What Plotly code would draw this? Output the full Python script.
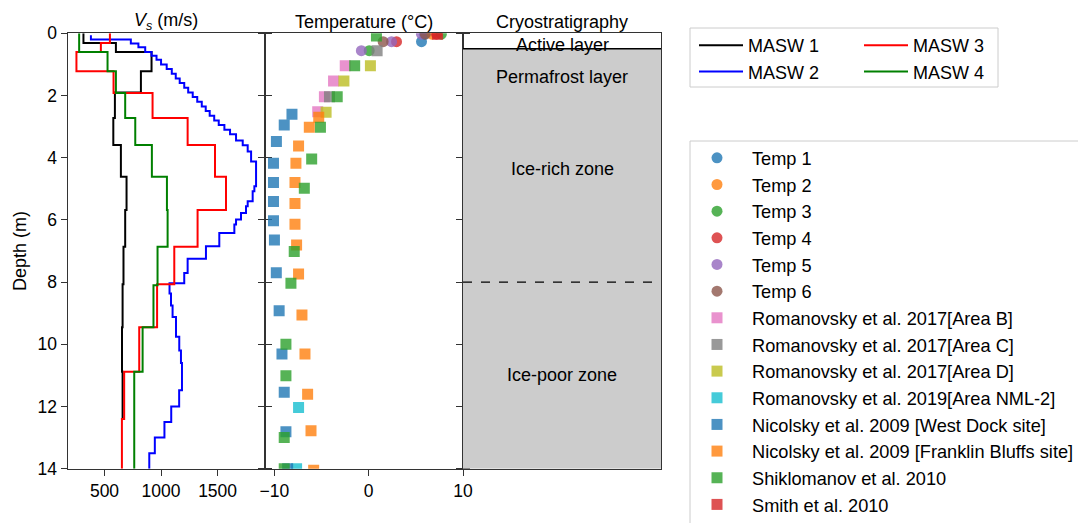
import plotly.graph_objects as go

# ---------------- Vs profiles (layer top depth in m, Vs in m/s) ----------------
masw1_top = [0.0, 0.31, 0.6, 1.22, 1.9, 2.72, 3.59, 4.61, 5.68, 6.86, 8.07, 9.45, 10.88]
masw1_vs = [314, 601, 916, 822, 592, 578, 645, 695, 683, 668, 660, 655, 660]
masw1_bottom = 12.4

masw2_top = [0.06, 0.2, 0.33, 0.45, 0.6, 0.72, 0.85, 1.0, 1.15, 1.3, 1.45, 1.6, 1.75, 1.9,
             2.05, 2.2, 2.35, 2.5, 2.65, 2.8, 2.95, 3.1, 3.25, 3.45, 3.6, 3.8, 4.12, 4.92,
             5.08, 5.4, 5.56, 5.78, 5.99, 6.15, 6.42, 6.85, 7.25, 7.71, 8.04, 8.37, 8.75,
             9.12, 9.76, 10.2, 10.6, 11.48, 12.0, 12.5, 13.0, 13.5]
masw2_vs = [380, 733, 800, 860, 916, 960, 1000, 1050, 1095, 1130, 1165, 1205, 1240, 1280,
            1320, 1360, 1395, 1430, 1470, 1510, 1560, 1610, 1663, 1722, 1766, 1796, 1840, 1825,
            1810, 1766, 1751, 1707, 1663, 1648, 1515, 1397, 1235, 1205, 1075, 1088, 1102,
            1132, 1161, 1176, 1185, 1160, 1090, 1030, 945, 896]
masw2_bottom = 14.0

masw3_top = [0.0, 0.31, 0.6, 1.22, 1.92, 2.72, 3.59, 4.61, 5.68, 6.86, 8.07, 9.45, 10.88, 12.4]
masw3_vs = [548, 468, 252, 580, 925, 1235, 1477, 1574, 1323, 1117, 965, 807, 674, 654]
masw3_bottom = 14.0

masw4_top = [0.0, 0.6, 1.22, 1.92, 2.72, 3.59, 4.61, 5.68, 6.86, 8.1, 9.45, 10.88]
masw4_vs = [276, 527, 601, 683, 772, 919, 1052, 1058, 969, 933, 837, 763]
masw4_bottom = 14.0

# ---------------- Temperature data (°C vs depth m) ----------------
temp1_t, temp1_d = [5.6, 5.9], [0.27, 0.03]
temp2_t, temp2_d = [6.7], [0.03]
temp3_t, temp3_d = [0.05, 7.7], [0.56, 0.03]
temp4_t, temp4_d = [2.95, 7.2], [0.27, 0.03]
temp5_t, temp5_d = [-0.78, 2.42, 5.6], [0.56, 0.27, 0.03]
temp6_t, temp6_d = [1.53, 6.0], [0.27, 0.03]
romB_t = [-2.49, -3.73, -4.7, -5.41]
romB_d = [1.04, 1.53, 2.04, 2.52]
romC_t = [0.89, -4.16]
romC_d = [0.56, 2.04]
romD_t = [0.18, -2.63, -4.52]
romD_d = [1.04, 1.53, 2.54]
rom19_t = [-7.44, -7.65]
rom19_d = [12.03, 14.0]
nicWD_t = [-8.14, -8.96, -9.79, -10.1, -10.1, -10.1, -10.1, -10.0, -9.8, -9.5, -9.2, -8.96, -8.78, -8.6]
nicWD_d = [2.6, 2.95, 3.48, 4.18, 4.8, 5.41, 6.03, 6.65, 7.7, 8.92, 10.31, 11.54, 12.81, 14.0]
nicFB_t = [-5.3, -6.3, -7.44, -7.72, -7.82, -7.82, -7.82, -7.65, -7.44, -7.08, -6.76, -6.48, -6.12, -5.84]
nicFB_d = [2.7, 3.02, 3.62, 4.18, 4.8, 5.47, 6.14, 6.81, 7.74, 9.06, 10.31, 11.61, 12.78, 14.05]
shik_t = [0.82, -1.49, -3.34, -5.12, -6.05, -6.83, -7.9, -8.25, -8.78, -8.78, -8.96, -8.96]
shik_d = [0.09, 1.04, 2.04, 3.02, 4.04, 4.98, 7.02, 8.04, 10.0, 11.01, 13.0, 14.0]
smith_t, smith_d = [7.3], [0.03]

# ---------------- Cryostratigraphy ----------------
active_layer_base = 0.5
ice_boundary = 8.0
max_depth = 14.0
zone_labels = ["Active layer", "Permafrost layer", "Ice-rich zone", "Ice-poor zone"]
zone_label_depths = [0.38, 1.4, 4.35, 11.0]

W, H = 1078, 523
FONT = "Liberation Sans, Arial, sans-serif"
TXT = "#000000"
AX = "#333333"

fig = go.Figure()


def step(top, vs, bottom):
    return list(vs) + [vs[-1]], list(top) + [bottom]


masw = [
    ("MASW 1", masw1_top, masw1_vs, masw1_bottom, "black", "legend", 1),
    ("MASW 2", masw2_top, masw2_vs, masw2_bottom, "#0000ff", "legend", 2),
    ("MASW 3", masw3_top, masw3_vs, masw3_bottom, "#ff0000", "legend3", 1),
    ("MASW 4", masw4_top, masw4_vs, masw4_bottom, "#008000", "legend3", 2),
]
for name, top, vs, bot, col, leg, rank in masw:
    x, y = step(top, vs, bot)
    fig.add_trace(go.Scatter(x=x, y=y, mode="lines", line=dict(color=col, width=2, shape="vh"),
                             name=name, xaxis="x", yaxis="y", legend=leg, legendrank=rank))

temps = [
    ("Temp 1", temp1_t, temp1_d, "#1f77b4", "circle"),
    ("Temp 2", temp2_t, temp2_d, "#ff7f0e", "circle"),
    ("Temp 3", temp3_t, temp3_d, "#2ca02c", "circle"),
    ("Temp 4", temp4_t, temp4_d, "#d62728", "circle"),
    ("Temp 5", temp5_t, temp5_d, "#9467bd", "circle"),
    ("Temp 6", temp6_t, temp6_d, "#8c564b", "circle"),
    ("Romanovsky et al. 2017[Area B]", romB_t, romB_d, "#e377c2", "square"),
    ("Romanovsky et al. 2017[Area C]", romC_t, romC_d, "#7f7f7f", "square"),
    ("Romanovsky et al. 2017[Area D]", romD_t, romD_d, "#bcbd22", "square"),
    ("Romanovsky et al. 2019[Area NML-2]", rom19_t, rom19_d, "#17becf", "square"),
    ("Nicolsky et al. 2009 [West Dock site]", nicWD_t, nicWD_d, "#1f77b4", "square"),
    ("Nicolsky et al. 2009 [Franklin Bluffs site]", nicFB_t, nicFB_d, "#ff7f0e", "square"),
    ("Shiklomanov et al. 2010", shik_t, shik_d, "#2ca02c", "square"),
    ("Smith et al. 2010", smith_t, smith_d, "#d62728", "square"),
]
for i, (name, t, d, col, sym) in enumerate(temps):
    fig.add_trace(go.Scatter(x=t, y=d, mode="markers", name=name, xaxis="x2", yaxis="y2",
                             marker=dict(color=col, symbol=sym, size=11, opacity=0.8, line=dict(width=0)),
                             legend="legend2", legendrank=i + 1))

# cryostratigraphy panel
fig.add_shape(type="rect", xref="x3", yref="y3", x0=0, x1=1, y0=active_layer_base, y1=max_depth,
              fillcolor="#cccccc", line=dict(width=0), layer="below")
fig.add_shape(type="line", xref="x3", yref="y3", x0=0, x1=1, y0=active_layer_base, y1=active_layer_base,
              line=dict(color="black", width=1.5))
fig.add_shape(type="line", xref="x3", yref="y3", x0=0, x1=1, y0=ice_boundary, y1=ice_boundary,
              line=dict(color="black", width=1.3, dash="dash"))
for lab, dep in zip(zone_labels, zone_label_depths):
    fig.add_annotation(x=0.5, y=dep, xref="x3", yref="y3", text=lab, showarrow=False,
                       font=dict(size=18, color=TXT, family=FONT), xanchor="center", yanchor="middle")


def px(xp):
    return xp / W


def py(yp):
    return 1 - yp / H


# legend frames (drawn as shapes in paper coords)
fig.add_shape(type="rect", xref="paper", yref="paper", x0=px(690), x1=px(998), y0=py(87), y1=py(28),
              line=dict(color="#cccccc", width=1), fillcolor="white", layer="below")
fig.add_shape(type="rect", xref="paper", yref="paper", x0=px(690), x1=px(1090), y0=py(540), y1=py(141),
              line=dict(color="#cccccc", width=1), fillcolor="white", layer="below")

# titles
titles = [("<i>V<sub>s</sub></i> (m/s)", 166), ("Temperature (°C)", 364), ("Cryostratigraphy", 562)]
for txt, xc in titles:
    fig.add_annotation(x=px(xc), y=py(22), xref="paper", yref="paper", text=txt, showarrow=False,
                       font=dict(size=18, color=TXT, family=FONT), xanchor="center", yanchor="middle")
fig.add_annotation(x=px(20), y=py(251), xref="paper", yref="paper", text="Depth (m)", showarrow=False,
                   textangle=-90, font=dict(size=18, color=TXT, family=FONT), xanchor="center", yanchor="middle")

ydom = [1 - 468.7 / H, 1 - 33.3 / H]
common_axis = dict(showgrid=False, zeroline=False, showline=True, linecolor=AX, linewidth=1,
                   ticks="outside", ticklen=6, tickwidth=1, tickcolor=AX, automargin=False,
                   tickfont=dict(size=17.5, color=TXT, family=FONT))

fig.update_layout(
    template="none",
    width=W, height=H, margin=dict(l=0, r=0, t=0, b=0, pad=0, autoexpand=False),
    paper_bgcolor="white", plot_bgcolor="white",
    font=dict(family=FONT, size=18, color=TXT),
    xaxis=dict(domain=[67.5 / W, 265 / W], range=[173, 1919], tickvals=[500, 1000, 1500],
               anchor="y", mirror=True, **common_axis),
    yaxis=dict(domain=ydom, range=[14, 0], tickvals=[0, 2, 4, 6, 8, 10, 12, 14],
               anchor="x", mirror="ticks", **common_axis),
    xaxis2=dict(domain=[265 / W, 463 / W], range=[-11, 10], tickvals=[-10, 0, 10],
                anchor="y2", mirror=True, **common_axis),
    yaxis2=dict(domain=ydom, range=[14, 0], tickvals=[0, 2, 4, 6, 8, 10, 12, 14], showticklabels=False,
                anchor="x2", mirror="ticks", **common_axis),
    xaxis3=dict(domain=[463 / W, 661 / W], range=[0, 1], showticklabels=False,
                anchor="y3", mirror=True, **{**common_axis, "ticks": ""}),
    yaxis3=dict(domain=ydom, range=[14, 0], tickvals=[0, 2, 4, 6, 8, 10, 12, 14], showticklabels=False,
                anchor="x3", mirror=True, **common_axis),
    legend=dict(x=px(694), y=py(27), xanchor="left", yanchor="top", bgcolor="rgba(0,0,0,0)",
                borderwidth=0, itemwidth=44, font=dict(size=18, family=FONT, color=TXT),
                tracegroupgap=0, traceorder="normal"),
    legend3=dict(x=px(859), y=py(27), xanchor="left", yanchor="top", bgcolor="rgba(0,0,0,0)",
                 borderwidth=0, itemwidth=44, font=dict(size=18, family=FONT, color=TXT),
                 tracegroupgap=0, traceorder="normal"),
    legend2=dict(x=px(682), y=py(139.5), xanchor="left", yanchor="top", bgcolor="rgba(0,0,0,0)",
                 borderwidth=0, itemwidth=60, font=dict(size=18.2, family=FONT, color=TXT),
                 tracegroupgap=0, traceorder="normal"),
    showlegend=True,
)

fig.write_html("out.html")
